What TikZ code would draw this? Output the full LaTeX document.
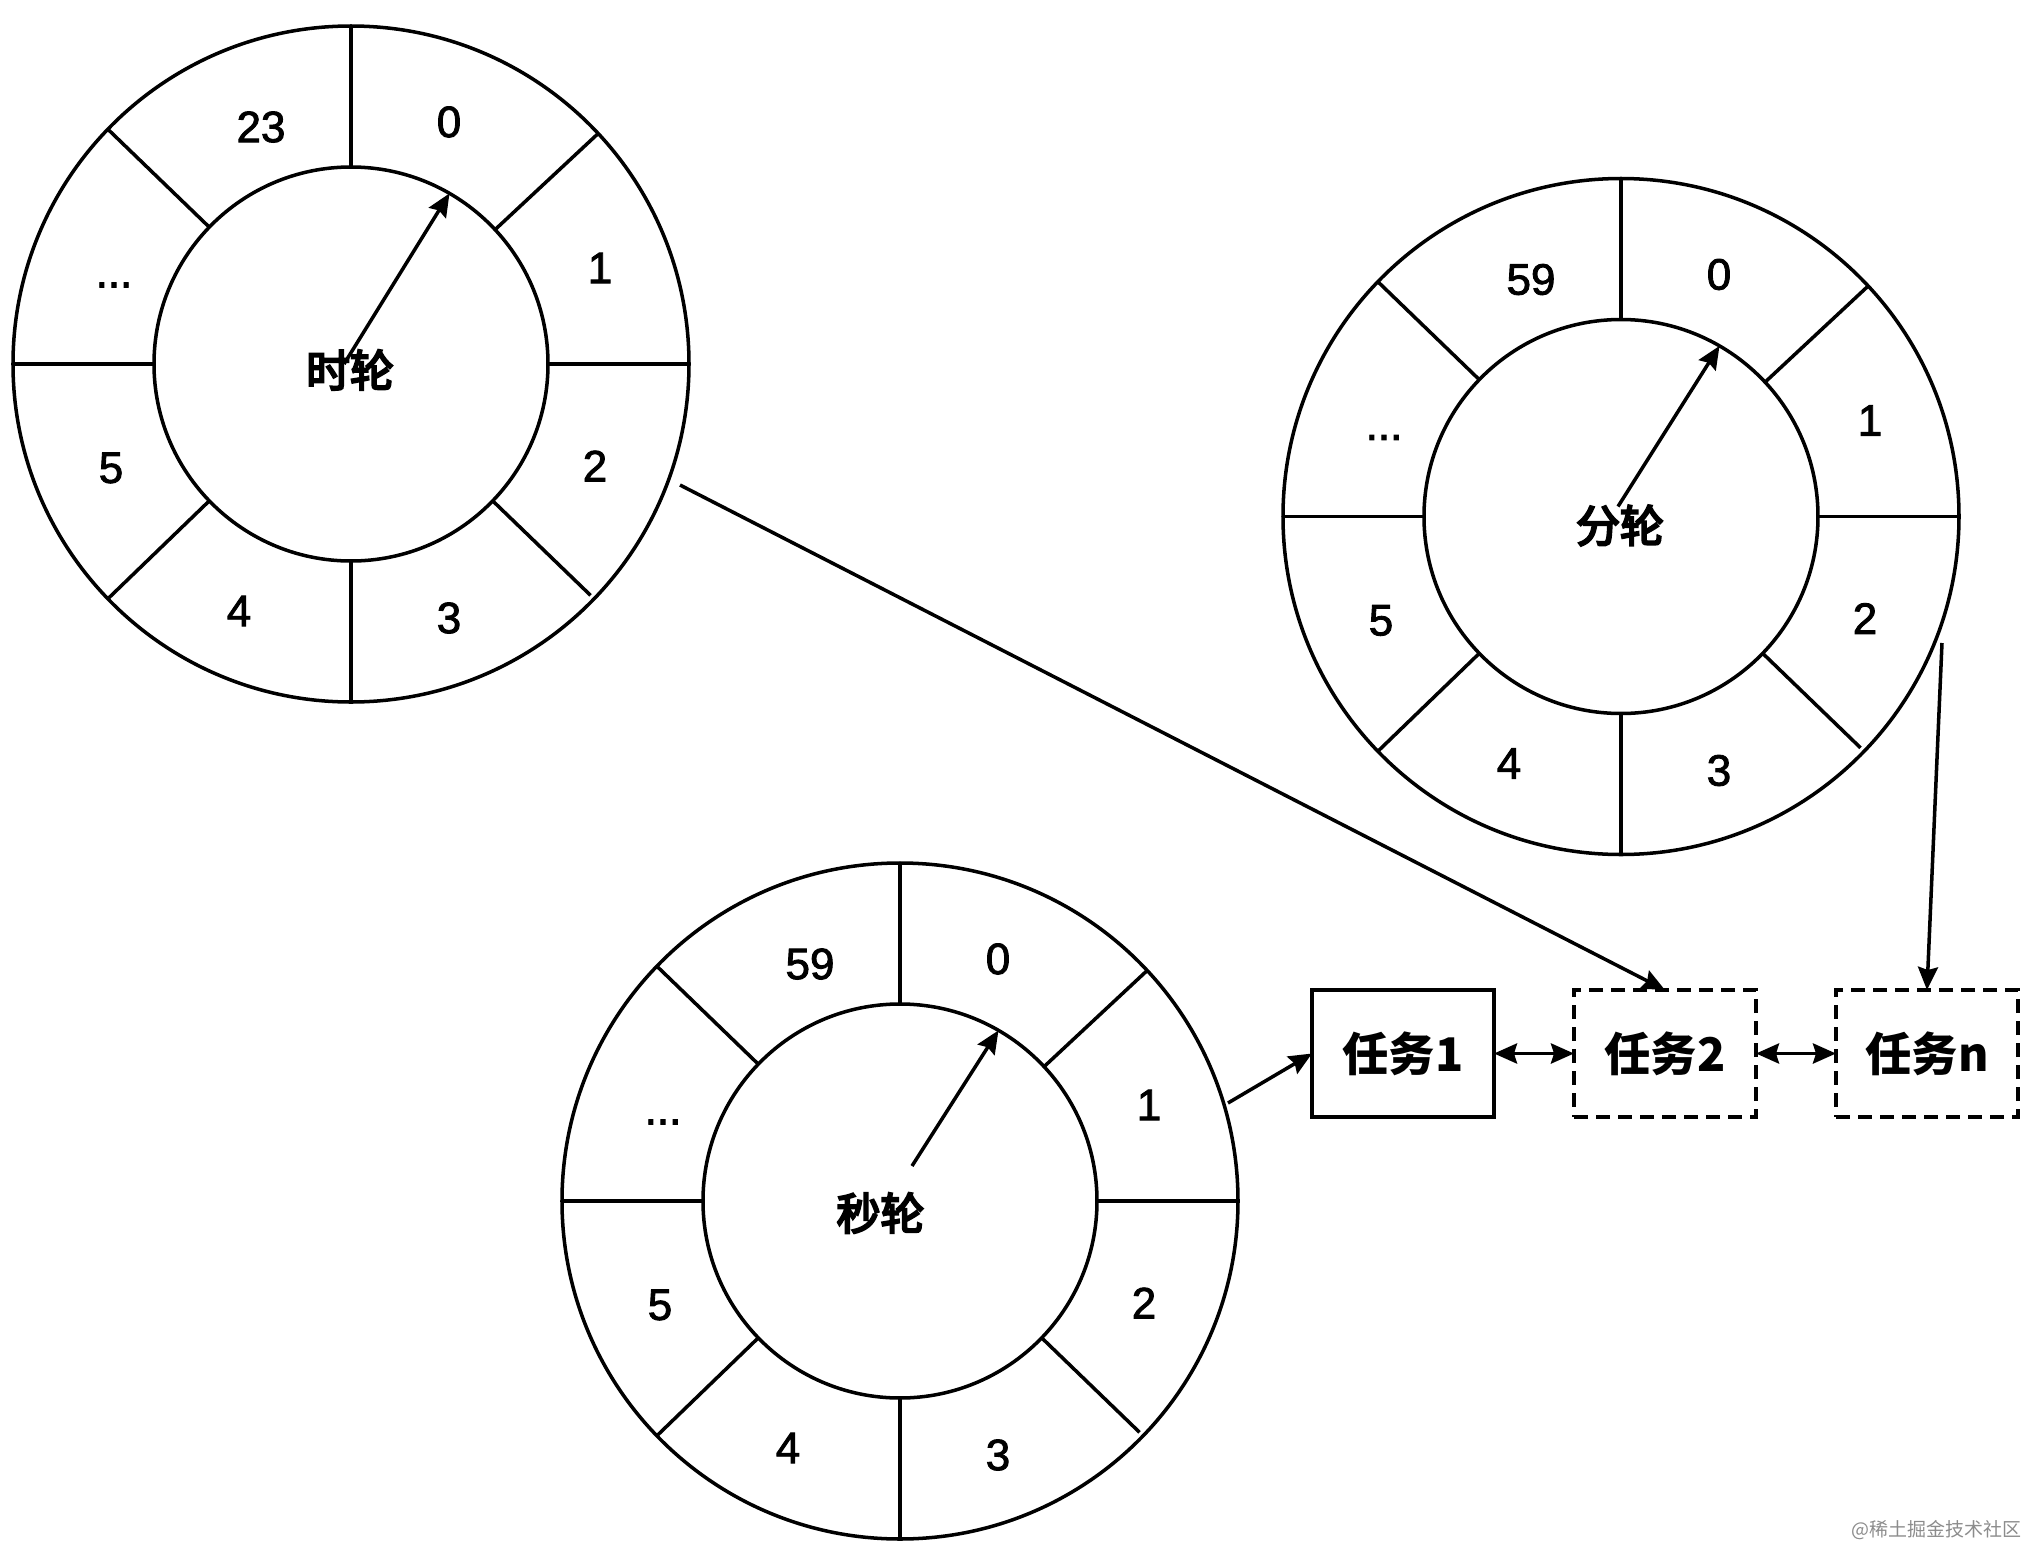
\documentclass[tikz,border=0pt]{standalone}
\usepackage{fontspec}
\setmainfont{Liberation Sans}
\newfontfamily\digits[FakeBold=2]{Liberation Sans}
\newfontfamily\cjk{Noto Sans CJK SC}
\newfontfamily\cjkheavy[FakeBold=5]{Noto Sans CJK SC}
\usetikzlibrary{positioning,arrows.meta}
\newcommand{\moreslots}{...}
\tikzset{
	ring/.style={circle,draw,line width=1pt,inner sep=0,outer sep=0},
	spoke/.style={line width=1pt},
	slot/.style={font=\fontsize{12.5pt}{14pt}\selectfont\digits},
	hub/.style={font=\fontsize{12.5pt}{14pt}\selectfont\cjkheavy},
	hand/.style={line width=1pt,-{Stealth[length=2.3mm,width=2mm,inset=.3mm]}},
	link/.style={line width=1pt,-{Stealth[length=2.3mm,width=2mm,inset=.3mm]}},
	both/.style={line width=1.1pt,{Stealth[length=2.3mm,width=2mm,inset=.3mm]}-{Stealth[length=2.3mm,width=2mm,inset=.3mm]}},
	taskbox/.style={draw,line width=1.1pt,minimum width=1.82cm,minimum height=1.27cm,inner sep=0,outer sep=0,font=\fontsize{13.2pt}{15pt}\selectfont\cjk\bfseries},
	maybe/.style={taskbox,dash pattern=on 1.4mm off .8mm},
}
\begin{document}
\begin{tikzpicture}
		\useasboundingbox (0,0) rectangle (20.22,-15.44);
		% one wheel per row: name, centre, top left slot, hub text and its shift, foot of the hand
		\foreach \w/\cx/\cy/\last/\txt/\tx/\ty/\hx/\hy in {
			hour/3.51/-3.64/23/时轮/-.01/-.06/-.07/0,
			minute/16.21/-5.165/59/分轮/-.01/-.09/-.03/.10,
			second/9.00/-12.01/59/秒轮/-.195/-.12/.12/.35}{
			\node[ring,minimum size=6.76cm](\w-out)at(\cx,\cy){};
			\node[ring,minimum size=3.94cm](\w-in)at(\cx,\cy){};
			\foreach \a/\gap in {90/0,43/0,0/0,316/.05,270/0,224/0,180/0,136/0}
				\draw[spoke,shorten >=\gap cm](\w-in.\a)--(\w-out.\a);
			\foreach \id/\s/\dx/\dy in {a/0/.98/2.42,b/\last/-.90/2.37,c/1/2.49/.96,d/\moreslots/-2.37/.79,e/2/2.44/-1.02,f/5/-2.40/-1.04,g/4/-1.12/-2.47,h/3/.98/-2.54}
				\node[slot](\w-\id)at(\cx+\dx,\cy+\dy){\s};
			\node[hub](\w-hub)at(\cx+\tx,\cy+\ty){\txt};
			\coordinate(\w-foot)at(\cx+\hx,\cy+\hy);
			\draw[hand](\w-foot)--(\w-in.60);
		}
		\node[taskbox](task1)at(14.03,-10.535){任务1};
		\node[maybe,right=.8cm of task1](task2){任务2};
		\node[maybe,right=.8cm of task2](taskn){任务n};
		\coordinate(hour-tail)at(6.80,-4.85);
		\coordinate(minute-tail)at(19.42,-6.43);
		\coordinate(second-tail)at(12.28,-11.03);
		\draw[link](hour-tail)--(task2.north);
		\draw[link](minute-tail)--(taskn.north);
		\draw[link](second-tail)--(task1.west);
		\draw[both](task1)--(task2);
		\draw[both](task2)--(taskn);
		\node[anchor=east,text=black!45,font=\fontsize{5.4pt}{6pt}\selectfont\cjk,inner sep=0](mark)at(20.22,-15.30){@稀土掘金技术社区};
	\end{tikzpicture}
\end{document}
